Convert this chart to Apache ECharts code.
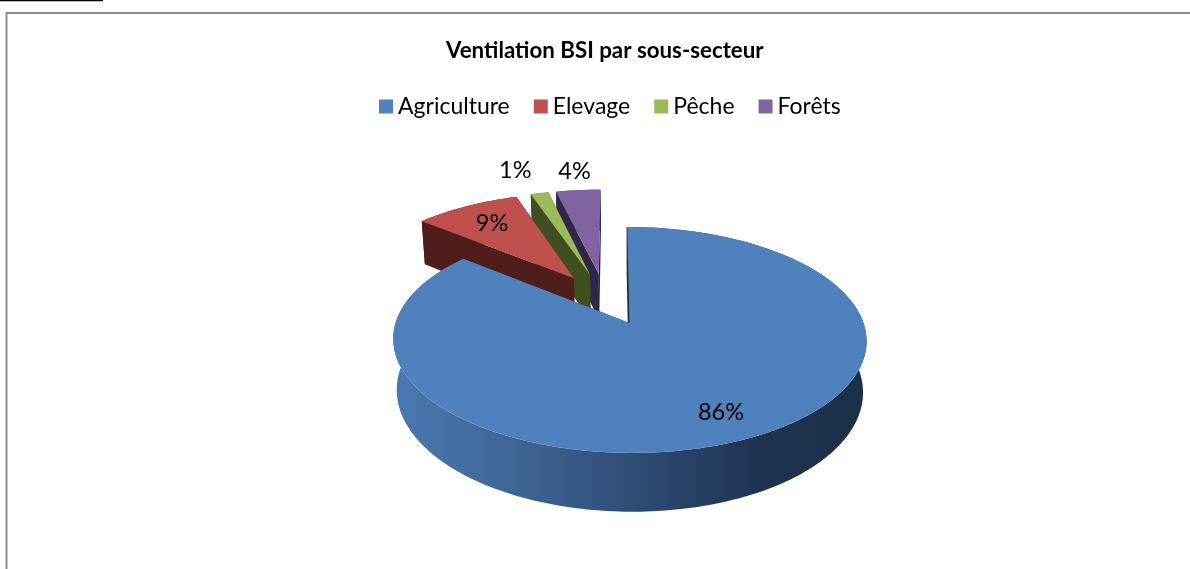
<!DOCTYPE html>
<html>
<head>
<meta charset="utf-8">
<style>html,body{margin:0;padding:0;background:#fff}#c{width:1190px;height:569px}</style>
<script src="https://cdn.jsdelivr.net/npm/echarts@6/dist/echarts.min.js"></script>
</head>
<body>
<div id="c"></div>
<script>
const categories = ['Agriculture', 'Elevage', 'Pêche', 'Forêts'];
const shares = [86, 8.8, 1.49, 3.71];
const shareLabels = ['86%', '9%', '1%', '4%'];
const topColors = ['#4f81bd', '#c0504d', '#9bbb59', '#8064a2'];
const wallColors = ['#1d3048', '#4f1e1c', '#3f4f22', '#31264a'];

// Projection of the tilted pie
const CX = 629.5, CY = 323, A = 234, B = 110.4, K = -0.15, SKEW = 2.5;
const DEPTH = 50, BOTTOM_SCALE = 0.985, EXPLODE = 0.25;
const LABEL_R = [0.80, 0.74, 1.33, 1.27];
const LABEL_DX = [0, 0, -10, 1];

const total = shares.reduce((a, b) => a + b, 0);
const startOf = i => shares.slice(0, i).reduce((a, b) => a + b, 0) / total * 2 * Math.PI;
const dir = t => [Math.sin(t), -Math.cos(t)];

function project(p, low) {
  const den = 1 + K * p[1];
  const sx = (A * p[0] + SKEW * p[1]) / den;
  const sy = B * p[1] / den;
  return low
    ? [CX + sx * BOTTOM_SCALE, CY + sy + DEPTH / den]
    : [CX + sx, CY + sy];
}

function renderSlice(i) {
  return function (params, api) {
    const a0 = startOf(i);
    const a1 = a0 + api.value(0) / total * 2 * Math.PI;
    const mid = (a0 + a1) / 2;
    const m0 = dir(shares[0] / total * Math.PI);
    const mi = dir(mid);
    const o = [EXPLODE * (mi[0] - m0[0]), EXPLODE * (mi[1] - m0[1])];
    const at = (t, r) => { const d = dir(t); return [o[0] + r * d[0], o[1] + r * d[1]]; };
    const rim = [];
    const steps = Math.max(2, Math.ceil((a1 - a0) / 0.02));
    for (let s = 0; s <= steps; s++) rim.push(at(a0 + (a1 - a0) * s / steps, 1));
    const rimTop = rim.map(p => project(p, false));
    const rimLow = rim.map(p => project(p, true));
    const apTop = project(o, false), apLow = project(o, true);
    const wall = wallColors[i];
    const rimFill = i === 0 ? {
      type: 'linear', global: true, x: 394, y: 0, x2: 870, y2: 0,
      colorStops: [
        { offset: 0, color: '#4a79b2' },
        { offset: 0.25, color: '#3f6696' },
        { offset: 0.5, color: '#2f4d75' },
        { offset: 0.78, color: '#1e3250' },
        { offset: 1, color: wall }
      ]
    } : wall;
    const poly = (pts, fill, stroke) => ({
      type: 'polygon', shape: { points: pts },
      style: { fill: fill, stroke: stroke || null, lineWidth: stroke ? 1.5 : 0 }
    });
    const n = rim.length - 1;
    const lp = project(at(mid, LABEL_R[i]), false);
    return {
      type: 'group',
      children: [
        poly(rimTop.concat(rimLow.slice().reverse()), rimFill),
        poly([apTop, rimTop[n], rimLow[n], apLow], wall),
        poly([apTop, rimTop[0], rimLow[0], apLow], wall, i === 0 ? wall : null),
        poly([apTop].concat(rimTop), topColors[i]),
        {
          type: 'text',
          style: {
            x: lp[0] + LABEL_DX[i], y: lp[1],
            text: shareLabels[i], fill: '#000',
            font: '23.5px Lato', textAlign: 'center', textVerticalAlign: 'middle'
          }
        }
      ]
    };
  };
}

const order = [3, 2, 1, 0];
const chart = echarts.init(document.getElementById('c'), null, { renderer: 'canvas' });
chart.setOption({
  animation: false,
  backgroundColor: '#fff',
  title: {
    text: 'Ventilation BSI par sous-secteur',
    left: 441, top: 35,
    textStyle: { fontFamily: 'Lato', fontSize: 22.3, fontWeight: 'bold', color: '#000' }
  },
  legend: {
    data: categories,
    left: 374, top: 90,
    icon: 'rect', itemWidth: 14, itemHeight: 14, itemGap: 24,
    textStyle: { fontFamily: 'Lato', fontSize: 23, color: '#000' }
  },
  graphic: [
    { type: 'rect', silent: true, shape: { x: 6.5, y: 13, width: 1300, height: 800 },
      style: { fill: null, stroke: '#8c8c8c', lineWidth: 2 } },
    { type: 'line', silent: true, shape: { x1: 0, y1: 0.5, x2: 103, y2: 0.5 },
      style: { stroke: '#000', lineWidth: 1.5 } }
  ],
  series: order.map((i, k) => ({
    type: 'custom',
    name: categories[i],
    coordinateSystem: 'none',
    silent: true,
    z: 2 + k,
    itemStyle: { color: topColors[i] },
    renderItem: renderSlice(i),
    data: [[shares[i]]]
  }))
});
</script>
</body>
</html>
